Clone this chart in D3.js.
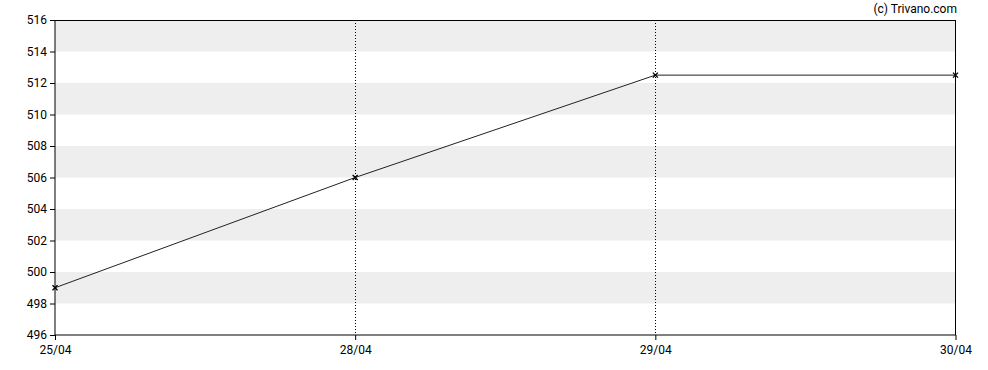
<!DOCTYPE html>
<html><head><meta charset="utf-8">
<script src="https://cdn.jsdelivr.net/npm/d3@7"></script>
<style>body{margin:0;background:#fff;}svg text{font-family:Roboto,"DejaVu Sans",sans-serif;font-size:12px;fill:#000;}</style>
</head><body>
<svg id="c" width="988" height="370"></svg>
<script>
const dates = ["25/04","28/04","29/04","30/04"];
const values = [499, 506, 512.5, 512.5];
const yTicks = [496,498,500,502,504,506,508,510,512,514,516];
const bands = [[498,500],[502,504],[506,508],[510,512],[514,516]];

const L=55, R=955.5, T=20, B=335;
const svg = d3.select("#c");
const x = d3.scalePoint().domain(dates).range([L,R]);
const y = d3.scaleLinear().domain([496,516]).range([B,T]);

svg.append("g").selectAll("rect").data(bands).join("rect")
  .attr("x",L).attr("width",R-L)
  .attr("y",d=>y(d[1])).attr("height",d=>y(d[0])-y(d[1]))
  .attr("fill","#eeeeee");

svg.append("g").selectAll("line").data(dates.slice(1,-1)).join("line")
  .attr("x1",d=>Math.round(x(d))+0.5).attr("x2",d=>Math.round(x(d))+0.5)
  .attr("y1",T).attr("y2",B)
  .attr("stroke","#000").attr("stroke-dasharray","1,2");

svg.append("rect").attr("x",L).attr("y",T+0.5).attr("width",R-L).attr("height",B-T-0.5)
  .attr("fill","none").attr("stroke","#000");

const ya = svg.append("g").attr("transform",`translate(${L},0)`)
  .call(d3.axisLeft(y).tickValues(yTicks).tickSize(5).tickPadding(3).tickFormat(d3.format("d")));
ya.select(".domain").remove();
ya.selectAll("text").style("font-size","12px");

const xa = svg.append("g").attr("transform",`translate(0,${B})`)
  .call(d3.axisBottom(x).tickSize(5).tickPadding(5));
xa.select(".domain").remove();
xa.selectAll("text").style("font-size","12px");

const line = d3.line().x((d,i)=>x(dates[i])).y(d=>y(d));
svg.append("path").datum(values).attr("d",line)
  .attr("fill","none").attr("stroke","#222").attr("stroke-width",1);

const s=2.5;
svg.append("g").selectAll("path").data(values).join("path")
  .attr("d",(d,i)=>{const cx=x(dates[i]), cy=y(d);
    return `M${cx-s},${cy-s}L${cx+s},${cy+s}M${cx-s},${cy+s}L${cx+s},${cy-s}`;})
  .attr("stroke","#000").attr("stroke-width",1.4);

svg.append("text").attr("x",957).attr("y",13).attr("text-anchor","end").text("(c) Trivano.com");
</script>
</body></html>
